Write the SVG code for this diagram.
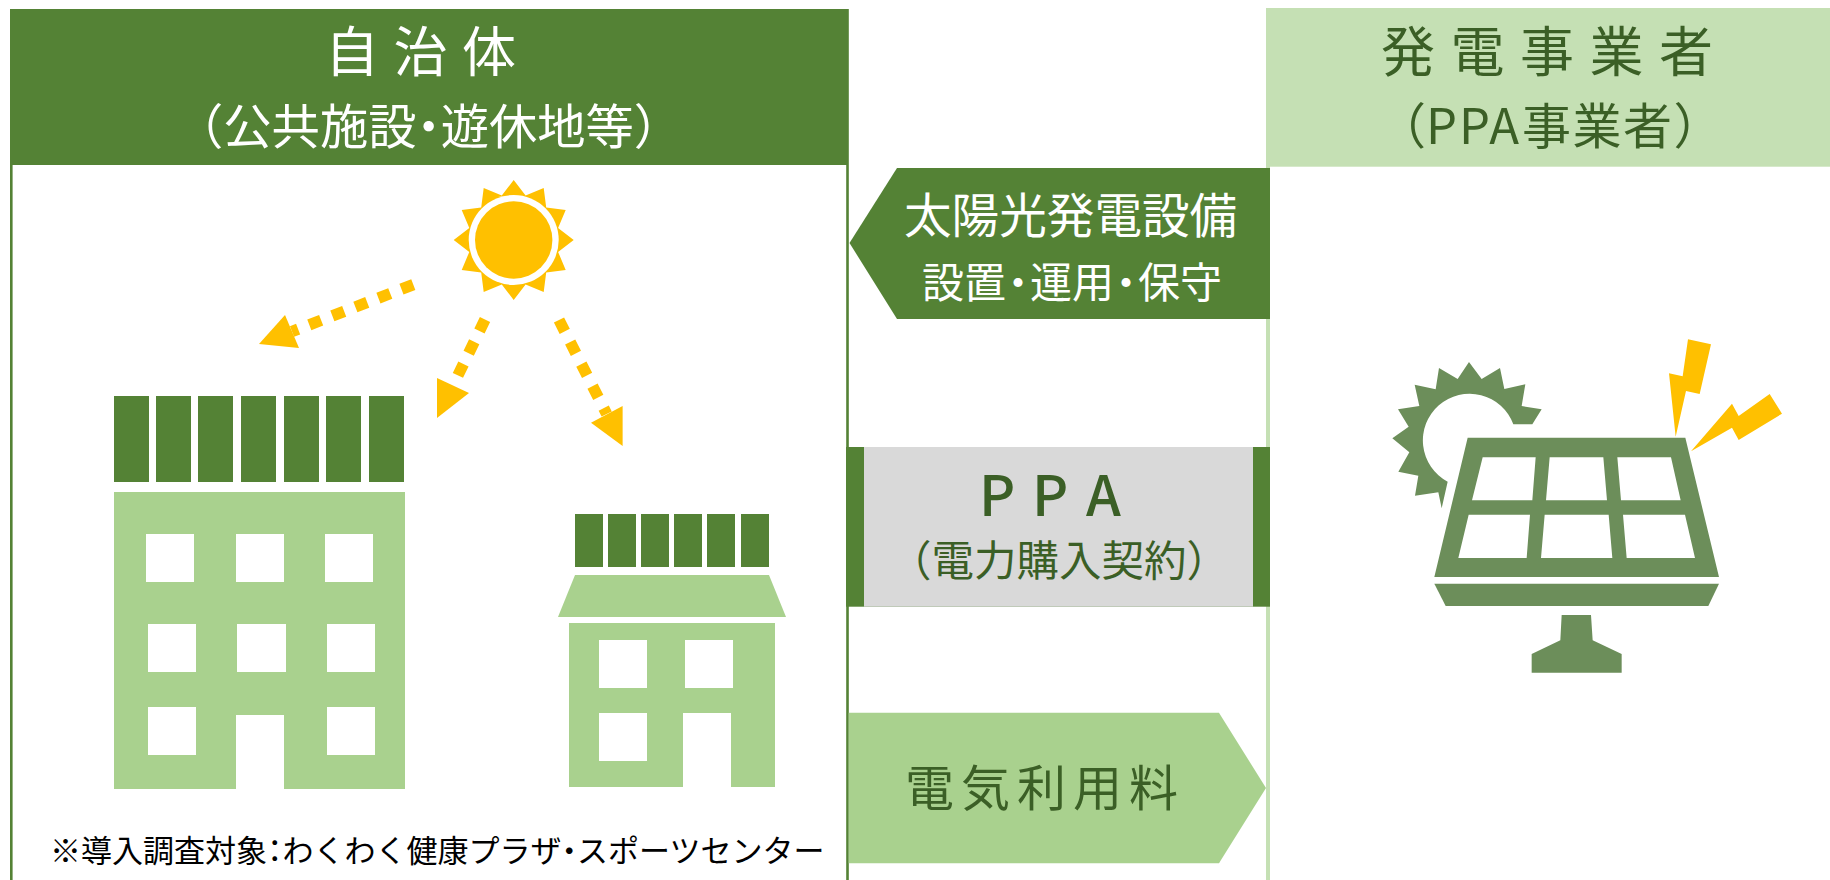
<svg xmlns="http://www.w3.org/2000/svg" width="1830" height="880" viewBox="0 0 1830 880">
<style>
text{font-family:"Noto Sans CJK JP","Noto Sans CJK SC",sans-serif;font-weight:400}
.dk{fill:#548235}.lt{fill:#A9D18E}.pale{fill:#C5E0B4}.yl{fill:#FFC000}.wh{fill:#fff}.ic{fill:#6C8E5A}
.tw{fill:#fff}.td{fill:#3B5F26}.tb{fill:#000}
.p{font-feature-settings:"palt"}
.ray{fill:none;stroke:#FFC000;stroke-width:11.4;stroke-dasharray:12.7 12}
</style>
<rect width="1830" height="880" fill="#fff"/>
<g id="municipality">
<rect x="10" y="165" width="2.6" height="715" class="dk"/>
<rect x="846.2" y="165" width="2.6" height="715" class="dk"/>
<rect x="10" y="9" width="838.8" height="156" class="dk"/>
<text class="tw" font-size="54" letter-spacing="14.500" x="325" y="72">自治体</text>
<text class="tw" font-size="48.300" x="175" y="144">（公共施設<tspan class="p">・</tspan>遊休地等）</text>
</g>
<g id="producer">
<rect x="1266" y="166" width="4" height="714" class="pale"/>
<rect x="1266" y="8" width="564" height="158.700" class="pale"/>
<text class="td" font-size="54" letter-spacing="15.500" x="1381" y="72">発電事業者</text>
<text class="td" font-size="49" x="1377" y="144">（P<tspan dx="2">P</tspan><tspan dx="2">A</tspan><tspan dx="3" letter-spacing="1.500">事業者）</tspan></text>
</g>
<g id="sun" transform="translate(513.700 240)">
<polygon class="yl" points="0,-60 11.900,-44.400 30,-52 32.500,-32.500 52,-30 44.400,-11.900 60,0 44.400,11.900 52,30 32.500,32.500 30,52 11.900,44.400 0,60 -11.900,44.400 -30,52 -32.500,32.500 -52,30 -44.400,11.900 -60,0 -44.400,-11.900 -52,-30 -32.500,-32.500 -30,-52 -11.900,-44.400"/>
<circle class="wh" r="45"/>
<circle class="yl" r="38.700"/>
</g>
<g id="connectors">
<line class="ray" x1="413.300" y1="284.600" x2="292" y2="331.500"/>
<polygon class="yl" points="285,315 299,348 259,344"/>
<line class="ray" x1="485" y1="319.500" x2="453" y2="385.500"/>
<polygon class="yl" points="437,378 469,393 437,418"/>
<line class="ray" x1="559" y1="320" x2="606.700" y2="414"/>
<polygon class="yl" points="591,422.700 622.600,406 622.600,446"/>
</g>
<g id="large-building">
<path class="dk" d="M114 396h35v86h-35zM156 396h35v86h-35zM198 396h35v86h-35zM241 396h35v86h-35zM284 396h35v86h-35zM326 396h35v86h-35zM369 396h35v86h-35z"/>
<path class="lt" fill-rule="evenodd" d="M114 492H405V789H284V715H236V789H114ZM146 534h48v48h-48zM236 534h48v48h-48zM325 534h48v48h-48zM148 624h48v48h-48zM237 624h49v48h-49zM327 624h48v48h-48zM148 707h48v48h-48zM327 707h48v48h-48z"/>
</g>
<g id="small-building">
<path class="dk" d="M575 514h28v53h-28zM608 514h28v53h-28zM641 514h28v53h-28zM674 514h28v53h-28zM707 514h28v53h-28zM741 514h28v53h-28z"/>
<polygon class="lt" points="575,575 769,575 786,617 558,617"/>
<path class="lt" fill-rule="evenodd" d="M569 623H775V787H731V713H683V787H569ZM599 640h48v48h-48zM685 640h48v48h-48zM599 713h48v48h-48z"/>
</g>
<g id="note"><text class="tb" font-size="31" x="50" y="862">※導入調査対象<tspan class="p">：</tspan>わくわく健康プラザ<tspan class="p">・</tspan>スポーツセンター</text></g>
<g id="install-arrow">
<polygon class="dk" points="849.500,243 897,168 1270,168 1270,319 897,319"/>
<text class="tw" font-size="47.600" x="904" y="233">太陽光発電設備</text>
<text class="tw" font-size="42" x="922" y="298">設置<tspan class="p" dx="1.500">・</tspan><tspan dx="1.500">運用</tspan><tspan class="p" dx="1.500">・</tspan><tspan dx="1.500">保守</tspan></text>
</g>
<g id="ppa">
<rect x="846" y="447" width="424" height="159.700" class="dk"/>
<rect x="864" y="447" width="389" height="159.700" fill="#D9D9D9"/>
<text class="td" font-size="56" style="font-weight:500" x="979 1032 1086" y="516">PPA</text>
<text class="td" font-size="42.500" x="889" y="576">（電力購入契約）</text>
</g>
<g id="fee-arrow">
<polygon class="lt" points="848.700,712.700 1219,712.700 1266,788 1219,863.300 848.700,863.300"/>
<text class="td" font-size="49" letter-spacing="7" x="905" y="806">電気利用料</text>
</g>
<g id="solar-panel" transform="translate(1370 330) scale(.33333)">
<path class="ic" d="M215 535L205 487L135 497L145 437L85 425L118 367L67 325L116 290L84 238L148 228L134 164L197 178L207 114L263 147L297 96L335 147L390 114L403 177L466 163L455 228L515 238L487 283H430A140 140 0 1 0 233 455Z"/>
<path class="ic" fill-rule="evenodd" d="M293 323H946L1047 741H193ZM338 382L306 511H487L497 382ZM539 382L528 511H711L700 382ZM742 382L753 511H932L903 382ZM296 554L265 684H470L480 554ZM524 554L513 684H727L716 554ZM759 554L770 684H975L945 554Z"/>
<polygon class="ic" points="193,761 1047,761 1015,828 227,828"/>
<polygon class="ic" points="575,855 663,855 668,931 755,972 755,1028 485,1028 485,972 571,931"/>
<polygon class="yl" points="954,28 1023,43 989,192 948,183 917,320 897,130 938,139"/>
<polygon class="yl" points="1199,192 1236,251 1106,330 1086,293 963,364 1086,221 1106,258"/>
</g>
</svg>
